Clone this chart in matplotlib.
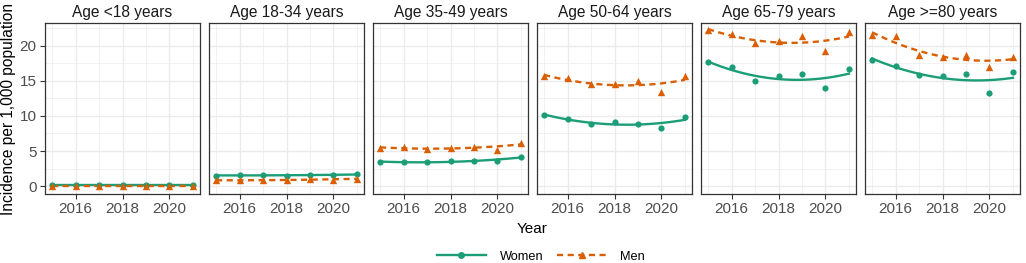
import numpy as np
import matplotlib
matplotlib.use("Agg")
import matplotlib.pyplot as plt
from matplotlib.lines import Line2D

plt.rcParams['font.family'] = ['Liberation Sans', 'DejaVu Sans']

years = [2015, 2016, 2017, 2018, 2019, 2020, 2021]
age_groups = ["Age <18 years", "Age 18-34 years", "Age 35-49 years",
              "Age 50-64 years", "Age 65-79 years", "Age >=80 years"]

women = [
    [0.2, 0.2, 0.2, 0.2, 0.2, 0.2, 0.2],
    [1.5, 1.6, 1.6, 1.5, 1.6, 1.6, 1.7],
    [3.5, 3.4, 3.4, 3.6, 3.6, 3.6, 4.2],
    [10.1, 9.6, 8.9, 9.1, 8.9, 8.3, 9.8],
    [17.6, 16.9, 15.0, 15.7, 16.0, 13.9, 16.6],
    [18.0, 17.1, 15.8, 15.6, 16.0, 13.3, 16.2],
]
men = [
    [0.1, 0.1, 0.1, 0.1, 0.1, 0.1, 0.1],
    [0.85, 0.85, 0.85, 0.9, 1.0, 0.9, 1.1],
    [5.4, 5.6, 5.25, 5.5, 5.6, 5.2, 6.2],
    [15.6, 15.4, 14.5, 14.5, 14.9, 13.4, 15.7],
    [22.2, 21.7, 20.3, 20.7, 21.3, 19.2, 21.9],
    [21.5, 21.3, 18.6, 18.3, 18.7, 17.0, 18.4],
]

c_w = "#1B9E77"
c_m = "#D95F02"
grid_c = "#EBEBEB"
dash = (0, (2.6, 1.9))
lw = 1.7

fig = plt.figure(figsize=(10.26, 2.63), dpi=100)
W, H = 1026, 263
left, right, top, bottom = 45, 1020, 23, 194
gap = 9
n = 6
pw = (right - left - gap * (n - 1)) / n

xs = np.array(years, dtype=float)
xfine = np.linspace(xs.min(), xs.max(), 100)

axes = []
for i in range(n):
    x0 = left + i * (pw + gap)
    ax = fig.add_axes([x0 / W, 1 - bottom / H, pw / W, (bottom - top) / H])
    axes.append(ax)
    w = np.array(women[i]); m = np.array(men[i])
    cw = np.polyval(np.polyfit(xs, w, 2), xfine)
    cm = np.polyval(np.polyfit(xs, m, 2), xfine)
    ax.plot(xfine, cw, color=c_w, lw=lw, zorder=3)
    ax.plot(xfine, cm, color=c_m, lw=lw, ls=dash, zorder=3)
    ax.scatter(xs, w, color=c_w, s=20, marker='o', zorder=4, linewidths=0)
    ax.scatter(xs, m, color=c_m, s=28, marker='^', zorder=4, linewidths=0)
    ax.set_xlim(2014.7, 2021.3)
    ax.set_ylim(-1.1, 23.2)
    ax.set_xticks([2016, 2018, 2020])
    ax.set_xticks([2015, 2017, 2019, 2021], minor=True)
    ax.set_yticks([0, 5, 10, 15, 20])
    ax.set_yticks([2.5, 7.5, 12.5, 17.5, 22.5], minor=True)
    ax.grid(which='major', color=grid_c, lw=1.0, zorder=0)
    ax.grid(which='minor', color=grid_c, lw=0.5, zorder=0)
    ax.set_axisbelow(True)
    for s in ax.spines.values():
        s.set_color("#333333"); s.set_linewidth(0.9)
    ax.tick_params(which='major', length=3.5, width=0.8, color="#333333",
                   labelsize=11, labelcolor="#4D4D4D", pad=2.5)
    ax.tick_params(which='minor', length=0)
    if i > 0:
        ax.tick_params(axis='y', labelleft=False, length=0)
    ax.set_title(age_groups[i], fontsize=11.2, color="#1A1A1A", pad=4)

fig.text(0.5 * (left + right) / W, 1 - 229 / H, "Year", ha='center', va='center',
         fontsize=11, color="black")
fig.text(8.5 / W, 1 - 0.5 * (top + bottom) / H, "Incidence per 1,000 population",
         rotation=90, ha='center', va='center', fontsize=11.2, color="black")

handles = [
    Line2D([0], [0], color=c_w, lw=lw, marker='o', markersize=4),
    Line2D([0], [0], color=c_m, lw=lw, ls=dash, marker='^', markersize=5),
]
fig.legend(handles, ["Women", "Men"], loc='center', ncol=2,
           bbox_to_anchor=(541 / W, 1 - 256.5 / H),
           frameon=False, fontsize=9.2, handlelength=3.8, columnspacing=1.1,
           handletextpad=1.1)

fig.savefig("out.png", dpi=100)
